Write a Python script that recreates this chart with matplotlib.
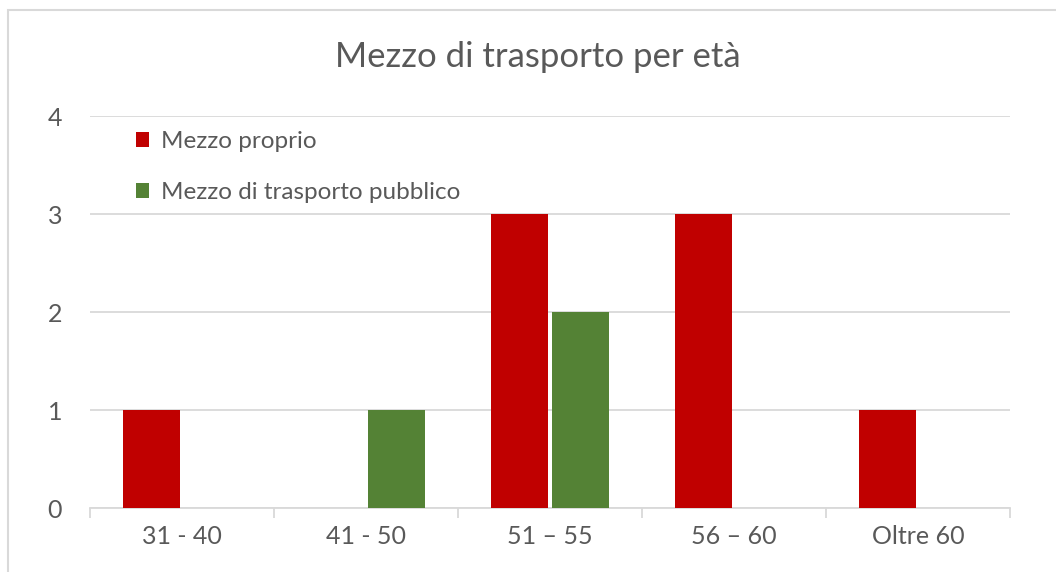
import matplotlib.pyplot as plt
import numpy as np
from matplotlib.patches import Rectangle

categories = ["31 - 40", "41 - 50", "51 \u2013 55", "56 \u2013 60", "Oltre 60"]
mezzo_proprio = [1, 0, 3, 3, 1]
mezzo_pubblico = [0, 1, 2, 0, 0]
series_names = ["Mezzo proprio", "Mezzo di trasporto pubblico"]

RED = "#C00000"
GREEN = "#548235"
GRID = "#D9D9D9"
TEXT = "#595959"

plt.rcParams["font.family"] = ["Lato", "DejaVu Sans"]

W, H = 1056, 572
fig = plt.figure(figsize=(W / 100, H / 100), dpi=100)
ax = fig.add_axes([90 / W, 1 - 508 / H, 920 / W, 392 / H])

# chart frame
fig.patches.append(Rectangle((8 / W, -0.05), 1.2, 1 - 10 / H + 0.05,
                             transform=fig.transFigure, fill=False,
                             edgecolor=GRID, lw=1.5))

x = np.arange(len(categories))
bw = 0.31
ax.bar(x - 0.165, mezzo_proprio, bw, color=RED, label=series_names[0], zorder=3)
ax.bar(x + 0.165, mezzo_pubblico, bw, color=GREEN, label=series_names[1], zorder=3)

ax.set_xlim(-0.5, len(categories) - 0.5)
ax.set_ylim(0, 4)
ax.set_yticks(range(5))
ax.yaxis.grid(True, color=GRID, lw=1.3, zorder=0)
ax.set_axisbelow(True)
for s in ["top", "right", "left"]:
    ax.spines[s].set_visible(False)
ax.spines["bottom"].set_color(GRID)
ax.spines["bottom"].set_linewidth(1.3)

ax.set_xticks(x)
ax.set_xticklabels(categories)
ax.set_xticks(np.arange(-0.5, len(categories)), minor=True)
ax.tick_params(axis="x", which="major", length=0, pad=12, labelsize=18, labelcolor=TEXT)
ax.tick_params(axis="x", which="minor", length=7, color=GRID, width=1.3)
ax.tick_params(axis="y", length=0, pad=20, labelsize=18, labelcolor=TEXT)

fig.text(538 / W, 1 - 57 / H, "Mezzo di trasporto per et\u00e0", ha="center", va="center",
         fontsize=25, color=TEXT)

leg = ax.legend(loc="upper left", bbox_to_anchor=(24 / 920, 1 + 7 / 392), frameon=False,
                fontsize=17.5, labelcolor=TEXT, handlelength=0.55, handleheight=0.55,
                handletextpad=0.5, labelspacing=1.25)

fig.savefig("out.png", dpi=100)
